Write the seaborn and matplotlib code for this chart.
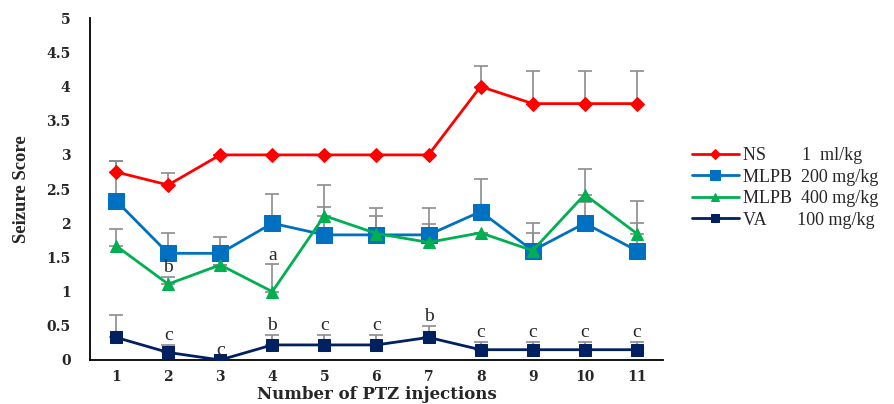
import numpy as np
import pandas as pd
import matplotlib
matplotlib.use("Agg")
import matplotlib.pyplot as plt
import seaborn as sns

# data
injections = list(range(1, 12))
groups = ["NS        1  ml/kg", "MLPB  200 mg/kg", "MLPB  400 mg/kg", "VA       100 mg/kg"]
ns = [2.75, 2.56, 3.0, 3.0, 3.0, 3.0, 3.0, 4.0, 3.75, 3.75, 3.75]
ns_err = [0.16, 0.18, 0, 0, 0, 0, 0, 0.30, 0.48, 0.48, 0.48]
mlpb200 = [2.33, 1.56, 1.56, 2.0, 1.83, 1.83, 1.83, 2.17, 1.60, 2.0, 1.60]
mlpb200_err = [0.58, 0.30, 0.24, 0.43, 0.73, 0.40, 0.40, 0.48, 0.40, 0.31, 0.72]
mlpb400 = [1.67, 1.11, 1.39, 1.0, 2.11, 1.85, 1.72, 1.86, 1.60, 2.42, 1.85]
mlpb400_err = [0.24, 0.11, 0.0, 0.40, 0.13, 0.26, 0.27, 0.0, 0.26, 0.38, 0.15]
va = [0.33, 0.11, 0.0, 0.22, 0.22, 0.22, 0.33, 0.15, 0.15, 0.15, 0.15]
va_err = [0.33, 0.11, 0.0, 0.15, 0.15, 0.15, 0.17, 0.12, 0.12, 0.12, 0.12]
va_letters = ["", "c", "c", "b", "c", "c", "b", "c", "c", "c", "c"]
mlpb400_letters = ["", "b", "", "a", "", "", "", "", "", "", ""]

colors = ["#FF0000", "#0070C0", "#00B050", "#002060"]
markers = ["D", "s", "^", "s"]
msizes = [7, 11, 9, 9]
values = [ns, mlpb200, mlpb400, va]
errors = [ns_err, mlpb200_err, mlpb400_err, va_err]

df = pd.concat([pd.DataFrame({"inj": injections, "score": v, "group": g})
                for g, v in zip(groups, values)])

sns.set_style("white")
plt.rcParams["font.family"] = ["Liberation Serif", "DejaVu Serif"]

fig = plt.figure(figsize=(8.95, 4.04), dpi=100)
ax = fig.add_axes([0.1006, 0.109, 0.64, 0.846])

# upward-only error bars in gray
for v, e in zip(values, errors):
    ax.errorbar(injections, v, yerr=[np.zeros(len(e)), e], fmt="none",
                ecolor="#8c8c8c", elinewidth=1.2, capsize=5, capthick=1.2, zorder=1)

for g, c, m, s in zip(groups, colors, markers, msizes):
    sub = df[df.group == g]
    sns.lineplot(data=sub, x="inj", y="score", ax=ax, color=c, marker=m,
                 markersize=s, markeredgecolor=c, linewidth=2, label=g, zorder=3)

for x, v, e, t in zip(injections, va, va_err, va_letters):
    if t:
        ax.text(x, v + e + 0.01, t, ha="center", va="bottom", fontsize=14)
for x, v, e, t in zip(injections, mlpb400, mlpb400_err, mlpb400_letters):
    if t:
        ax.text(x, v + e + 0.01, t, ha="center", va="bottom", fontsize=14)

tick_font = dict(family="DejaVu Serif", fontweight="bold", fontsize=10)
ax.set_xlim(0.5, 11.5)
ax.set_ylim(0, 5)
ax.set_yticks(np.arange(0, 5.01, 0.5))
ax.set_yticklabels([f"{t:g}" for t in np.arange(0, 5.01, 0.5)], **tick_font)
ax.set_xticks(injections)
ax.set_xticklabels(injections, **tick_font)
ax.set_xticks(np.arange(1.5, 11.5, 1), minor=True)
ax.tick_params(axis="x", which="major", length=0, pad=7)
ax.tick_params(axis="x", which="minor", length=6, width=1, direction="out", color="black")
ax.tick_params(axis="y", length=6, width=1, direction="out", color="#8c8c8c", pad=8)
for sp in ["top", "right"]:
    ax.spines[sp].set_visible(False)
for sp in ["left", "bottom"]:
    ax.spines[sp].set_color("black")
    ax.spines[sp].set_linewidth(1.3)

ax.set_xlabel("Number of PTZ injections", family="DejaVu Serif", fontsize=12,
              fontweight="bold", labelpad=2)
ax.set_ylabel("Seizure Score", fontsize=13.5, fontweight="bold", labelpad=12)

ax.legend(loc="center left", bbox_to_anchor=(0.755, 0.535), bbox_transform=fig.transFigure,
          frameon=False, fontsize=13, handlelength=2.6, handletextpad=0.2,
          labelspacing=0.25, markerscale=0.7)

fig.savefig("out.png", dpi=100)
